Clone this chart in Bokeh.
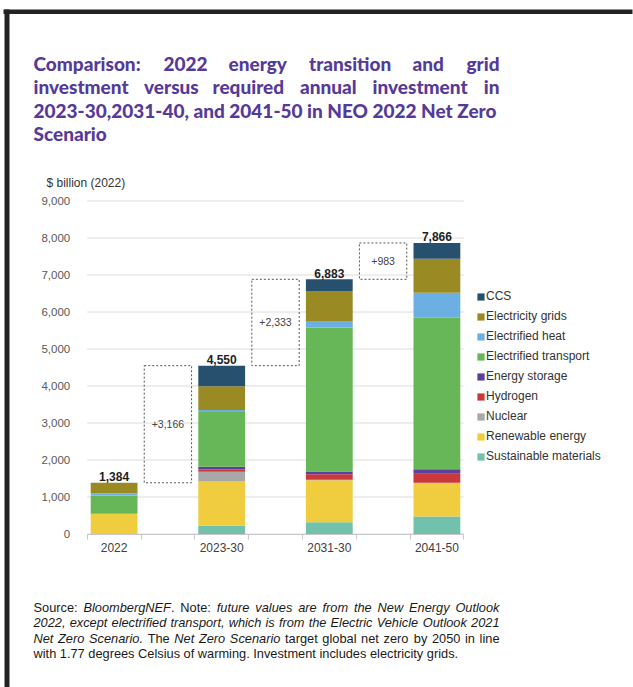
from bokeh.plotting import figure
from bokeh.models import (ColumnDataSource, Range1d, FixedTicker, NumeralTickFormatter,
                          Legend, LegendItem, Label, BoxAnnotation, LinearAxis)
from bokeh.embed import file_html
from bokeh.resources import INLINE
from bokeh.core.properties import value

# ---------------- data ----------------
categories = ["2022", "2023-30", "2031-30", "2041-50"]
series_names = ["Sustainable materials", "Renewable energy", "Nuclear", "Hydrogen",
                "Energy storage", "Electrified transport", "Electrified heat",
                "Electricity grids", "CCS"]
sustainable_materials = [0, 220, 320, 473]
renewable_energy = [546, 1200, 1130, 910]
nuclear = [0, 260, 15, 0]
hydrogen = [0, 60, 150, 243]
energy_storage = [0, 80, 75, 126]
electrified_transport = [495, 1480, 3890, 4090]
electrified_heat = [60, 50, 180, 676]
electricity_grids = [283, 640, 810, 919]
ccs = [0, 560, 313, 429]
y_ticks = [0, 1000, 2000, 3000, 4000, 5000, 6000, 7000, 8000, 9000]

series_values = [sustainable_materials, renewable_energy, nuclear, hydrogen, energy_storage,
                 electrified_transport, electrified_heat, electricity_grids, ccs]
colors = ["#72c1ad", "#f0cd3f", "#a8a8a8", "#c9383b", "#5b3f9a",
          "#67b657", "#6cafe2", "#9a8a24", "#27506f"]

# ---------------- layout (canvas pixels) ----------------
W, H = 633, 687
CHART_LEFT = 86.7      # x pixel of slot 0 left edge
SLOT_PX = 53.8         # pixel width of one slot
ZERO_Y = 533.5         # y pixel of value 0
PX_PER_UNIT = 0.037    # pixels per $bn
SLOT = 2
N_SLOTS = 7

x_range = Range1d(-CHART_LEFT / SLOT_PX, (W - CHART_LEFT) / SLOT_PX)
y_range = Range1d(-(H - ZERO_Y) / PX_PER_UNIT, ZERO_Y / PX_PER_UNIT)

p = figure(width=W, height=H, output_backend="svg", toolbar_location=None, title=None,
           x_range=x_range, y_range=y_range, x_axis_location=None, y_axis_location=None,
           min_border=0, min_border_left=0, min_border_right=0,
           min_border_top=0, min_border_bottom=0)
p.outline_line_color = None
p.background_fill_color = "white"
p.border_fill_color = "white"
p.grid.visible = False

# gridlines (from the tick values)
p.segment(x0=0, x1=N_SLOTS, y0=y_ticks, y1=y_ticks, line_color="#dcdcdc", line_width=1)

keys = ["s%d" % i for i in range(len(series_names))]
data = {"x": [SLOT * i + 0.5 for i in range(len(categories))]}
for k, v in zip(keys, series_values):
    data[k] = v
src = ColumnDataSource(data)
rends = p.vbar_stack(keys, x="x", width=0.87, color=colors, line_color=None, source=src)

totals = [sum(col[i] for col in series_values) for i in range(len(categories))]
lab_src = ColumnDataSource(dict(x=data["x"], y=totals, t=["{:,}".format(t) for t in totals]))
p.text(x="x", y="y", text="t", source=lab_src, text_align="center", text_baseline="alphabetic",
       y_offset=-6, text_font=value("Liberation Sans"), text_font_style="bold",
       text_font_size="12px", text_color="#1e1e1e")

# dashed difference boxes
gx = [SLOT * i + 1.5 for i in range(len(categories) - 1)]
gb = totals[:-1]
gt = totals[1:]
diff_src = ColumnDataSource(dict(l=[g - 0.44 for g in gx], r=[g + 0.44 for g in gx], b=gb, t=gt,
                                 x=gx, y=[(a + b) / 2 for a, b in zip(gb, gt)],
                                 txt=["+{:,}".format(b - a) for a, b in zip(gb, gt)]))
p.quad(left="l", right="r", bottom="b", top="t", source=diff_src, fill_color=None,
       line_color="#555555", line_dash="2 2", line_width=1)
p.text(x="x", y="y", text="txt", source=diff_src, text_align="center", text_baseline="middle",
       text_font=value("Liberation Sans"), text_font_size="10.5px", text_color="#444444")

# axes (drawn at fixed data locations)
yaxis = LinearAxis(fixed_location=0, bounds=(0, 9000))
yaxis.ticker = FixedTicker(ticks=y_ticks)
yaxis.formatter = NumeralTickFormatter(format="0,0")
yaxis.axis_line_color = None
yaxis.major_tick_line_color = None
yaxis.minor_tick_line_color = None
yaxis.major_label_standoff = 11
yaxis.major_label_text_font = "Liberation Sans"
yaxis.major_label_text_font_size = "11.5px"
yaxis.major_label_text_color = "#595959"
p.add_layout(yaxis, "left")

xaxis = LinearAxis(fixed_location=0, bounds=(0, N_SLOTS))
xaxis.ticker = FixedTicker(ticks=data["x"], minor_ticks=list(range(0, N_SLOTS + 1)))
xaxis.major_label_overrides = {x: c for x, c in zip(data["x"], categories)}
xaxis.axis_line_color = "#c8c8c8"
xaxis.major_tick_line_color = None
xaxis.minor_tick_line_color = "#c8c8c8"
xaxis.minor_tick_in = 0
xaxis.minor_tick_out = 5
xaxis.major_label_standoff = 3
xaxis.major_label_text_font = "Liberation Sans"
xaxis.major_label_text_font_size = "12px"
xaxis.major_label_text_color = "#404040"
p.add_layout(xaxis, "below")

# legend
items = [LegendItem(label=n, renderers=[r]) for n, r in zip(series_names, rends)][::-1]
legend = Legend(items=items, location=(476, H - 466), padding=0, margin=0,
                glyph_width=9, glyph_height=9, label_height=20, spacing=0,
                label_standoff=1, border_line_color=None, background_fill_alpha=0,
                label_text_font="Liberation Sans", label_text_font_size="12px",
                label_text_color="#333333")
p.add_layout(legend, "center")


# ---------------- texts ----------------
def lab(X, Y, text, **kw):
    opts = dict(text_font="Liberation Sans", text_font_size="12px", text_color="#222222",
                text_baseline="alphabetic", text_align="left")
    opts.update(kw)
    p.add_layout(Label(x=X, y=H - Y, x_units="screen", y_units="screen", text=text, **opts))


lab(46, 182, "$ billion (2022)", text_color="#333333")

TITLE = dict(text_font="'Lato Black', Lato", text_font_style="bold", text_font_size="19px",
             text_color="#563a98")
line1 = [("Comparison:", 33, "left"), ("2022", 163, "left"), ("energy", 228, "left"),
         ("transition", 308.5, "left"), ("and", 412, "left"), ("grid", 499, "right")]
line2 = [("investment", 33, "left"), ("versus", 143.5, "left"), ("required", 212, "left"),
         ("annual", 299.5, "left"), ("investment", 372, "left"), ("in", 499, "right")]
for w, x, a in line1:
    lab(x, 63, w, text_align=a, **TITLE)
for w, x, a in line2:
    lab(x, 86.3, w, text_align=a, **TITLE)
lab(33, 109.6, "2023-30,2031-40, and 2041-50 in NEO 2022 Net Zero", **TITLE)
lab(33, 133, "Scenario", **TITLE)

# ---- justified source note (Liberation Sans advance widths, per 1000 em) ----
ADV = {" ": 278, ",": 278, "-": 333, ".": 278, ":": 278, "0": 556, "1": 556, "2": 556,
       "5": 556, "7": 556, "B": 667, "C": 722, "E": 667, "F": 611, "I": 278, "N": 722,
       "O": 778, "S": 667, "T": 611, "V": 667, "Z": 611, "a": 556, "b": 556, "c": 500,
       "d": 556, "e": 556, "f": 278, "g": 556, "h": 556, "i": 222, "k": 500, "l": 222,
       "m": 833, "n": 556, "o": 556, "p": 556, "r": 333, "s": 500, "t": 278, "u": 556,
       "v": 500, "w": 722, "x": 500, "y": 500}
NOTE_SIZE = 12.8
NOTE = dict(text_font="Liberation Sans", text_font_size="%.1fpx" % NOTE_SIZE, text_color="#1a1a1a")


def tw(s):
    return sum(ADV.get(c, 556) for c in s) * NOTE_SIZE / 1000.0


def justified(Y, words, x0=33, x1=499):
    widths = [sum(tw(t) for t, _ in w) for w in words]
    gap = (x1 - x0 - sum(widths)) / (len(words) - 1)
    x = x0
    for w, wd in zip(words, widths):
        xx = x
        for t, st in w:
            lab(xx, Y, t, text_font_style=("italic" if st == "i" else "normal"), **NOTE)
            xx += tw(t)
        x += wd + gap


def words_of(text, style):
    return [[(t, style)] for t in text.split(" ")]


justified(606.5, [[("Source:", "n")], [("BloombergNEF", "i"), (".", "n")], [("Note:", "n")]]
          + words_of("future values are from the New Energy Outlook", "i"))
justified(622, words_of("2022, except electrified transport, which is from the Electric Vehicle Outlook 2021", "i"))
justified(637.5, words_of("Net Zero Scenario.", "i") + [[("The", "n")]]
          + words_of("Net Zero Scenario", "i")
          + words_of("target global net zero by 2050 in line", "n"))
lab(33, 653, "with 1.77 degrees Celsius of warming. Investment includes electricity grids.", **NOTE)

# frame border (top and left)
p.add_layout(BoxAnnotation(left=3, right=632, top=H - 9, bottom=H - 13.5,
                           left_units="screen", right_units="screen", top_units="screen",
                           bottom_units="screen", fill_color="#222222", fill_alpha=1,
                           line_color=None))
p.add_layout(BoxAnnotation(left=4, right=9, top=H - 9, bottom=-5,
                           left_units="screen", right_units="screen", top_units="screen",
                           bottom_units="screen", fill_color="#222222", fill_alpha=1,
                           line_color=None))

open("out.html", "w").write(file_html(p, INLINE))
